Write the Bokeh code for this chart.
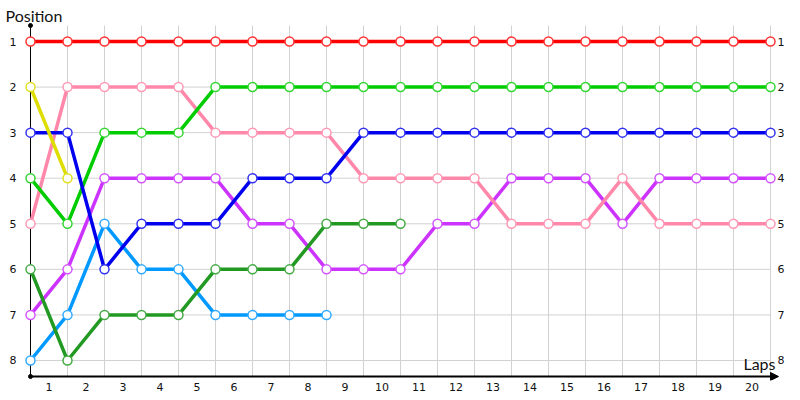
from bokeh.plotting import figure
from bokeh.models import FixedTicker, Range1d, Label, Arrow, NormalHead
from bokeh.embed import file_html
from bokeh.resources import INLINE
from bokeh.core.properties import value

# ---- data ----
laps = [0, 1, 2, 3, 4, 5, 6, 7, 8, 9, 10, 11, 12, 13, 14, 15, 16, 17, 18, 19, 20]
lap_label_pos = [0.5, 1.5, 2.5, 3.5, 4.5, 5.5, 6.5, 7.5, 8.5, 9.5, 10.5, 11.5, 12.5, 13.5, 14.5, 15.5, 16.5, 17.5, 18.5, 19.5]
lap_labels = ["1", "2", "3", "4", "5", "6", "7", "8", "9", "10", "11", "12", "13", "14", "15", "16", "17", "18", "19", "20"]
positions = [1, 2, 3, 4, 5, 6, 7, 8]
position_labels = ["1", "2", "3", "4", "5", "6", "7", "8"]

pos_red = [1, 1, 1, 1, 1, 1, 1, 1, 1, 1, 1, 1, 1, 1, 1, 1, 1, 1, 1, 1, 1]
pos_yellow = [2, 4]
pos_blue = [3, 3, 6, 5, 5, 5, 4, 4, 4, 3, 3, 3, 3, 3, 3, 3, 3, 3, 3, 3, 3]
pos_lime = [4, 5, 3, 3, 3, 2, 2, 2, 2, 2, 2, 2, 2, 2, 2, 2, 2, 2, 2, 2, 2]
pos_pink = [5, 2, 2, 2, 2, 3, 3, 3, 3, 4, 4, 4, 4, 5, 5, 5, 4, 5, 5, 5, 5]
pos_dkgreen = [6, 8, 7, 7, 7, 6, 6, 6, 5, 5, 5]
pos_purple = [7, 6, 4, 4, 4, 4, 5, 5, 6, 6, 6, 5, 5, 4, 4, 4, 5, 4, 4, 4, 4]
pos_ltblue = [8, 7, 5, 6, 6, 7, 7, 7, 7]

# drawn from last starter to first, so leaders are on top
series = [
    (pos_ltblue, "#0099ff", "#33aaff"),
    (pos_purple, "#cc33ff", "#d455ff"),
    (pos_dkgreen, "#229922", "#44aa44"),
    (pos_pink, "#ff88aa", "#ff99b5"),
    (pos_lime, "#00cc00", "#33d633"),
    (pos_blue, "#0000ee", "#3333f0"),
    (pos_yellow, "#dddd00", "#e0e020"),
    (pos_red, "#ff0000", "#ff3333"),
]

# range limits (chart frame extent, in data units)
X_MIN, X_MAX = -0.8108, 20.8108
Y_BOTTOM, Y_TOPEDGE = 8.4389, 0.1003
Y_TOP = 0.649      # top end of the position axis
Y_AX = 8.351       # level of the laps axis line
X_AX_END = 20.216  # tip of the laps axis arrow

tick_font = "DejaVu Sans"
title_font = "Lato"
label_color = "#111"

p = figure(width=800, height=400, output_backend="svg", toolbar_location=None,
           x_range=Range1d(X_MIN, X_MAX), y_range=Range1d(Y_BOTTOM, Y_TOPEDGE),
           y_axis_location=None,
           min_border_left=0, min_border_right=0, min_border_top=0, min_border_bottom=20,
           background_fill_color="white", border_fill_color="white")
p.outline_line_color = None
p.xgrid.grid_line_color = None
p.ygrid.grid_line_color = None

# bottom axis: only its labels (line drawn as arrow below)
xa = p.xaxis[0]
xa.ticker = FixedTicker(ticks=lap_label_pos)
xa.major_label_overrides = {k: v for k, v in zip(lap_label_pos, lap_labels)}
xa.major_tick_line_color = None
xa.minor_tick_line_color = None
xa.major_tick_out = 0
xa.major_tick_in = 0
xa.major_label_standoff = 2
xa.major_label_text_font = tick_font
xa.major_label_text_font_size = "11px"
xa.major_label_text_color = label_color
xa.axis_line_color = None

# grid lines
n_lap = len(laps)
n_pos = len(positions)
p.segment(x0=laps, y0=[Y_TOP] * n_lap, x1=laps, y1=[Y_AX] * n_lap,
          line_color="#d2d2d2", line_width=1)
p.segment(x0=[laps[0]] * n_pos, y0=positions, x1=[laps[-1]] * n_pos, y1=positions,
          line_color="#d2d2d2", line_width=1)

# position axis line
p.segment(x0=[laps[0]], y0=[Y_TOP], x1=[laps[0]], y1=[Y_AX], line_color="black", line_width=1)

# series
for pos, col, edge in series:
    xs = laps[:len(pos)]
    p.line(xs, pos, line_color=col, line_width=3.5)
    p.scatter(xs, pos, marker="circle", size=9, fill_color="white",
              line_color=edge, line_width=1.5)

# laps axis line with arrow
p.add_layout(Arrow(x_start=laps[0], y_start=Y_AX, x_end=X_AX_END, y_end=Y_AX,
                   line_color="black", line_width=2,
                   end=NormalHead(size=8, fill_color="black", line_color="black", line_width=1)))
p.scatter([laps[0], laps[0]], [Y_TOP, Y_AX], marker="circle", size=4, color="black")

# position tick labels on both sides
p.text(x=[laps[0]] * n_pos, y=positions, text=position_labels, x_offset=-14,
       text_align="right", text_baseline="middle", text_font=value(tick_font),
       text_font_size="11px", text_color=label_color)
p.text(x=[laps[-1]] * n_pos, y=positions, text=position_labels, x_offset=7,
       text_align="left", text_baseline="middle", text_font=value(tick_font),
       text_font_size="11px", text_color=label_color)

p.add_layout(Label(x=-0.676, y=0.440, text="Position", text_align="left",
                   text_baseline="alphabetic", text_font=title_font,
                   text_font_size="16px", text_color=label_color))
p.add_layout(Label(x=20.135, y=8.066, text="Laps", text_align="right",
                   text_baseline="alphabetic", text_font=title_font,
                   text_font_size="16px", text_color=label_color))

open("out.html", "w").write(file_html(p, INLINE))
